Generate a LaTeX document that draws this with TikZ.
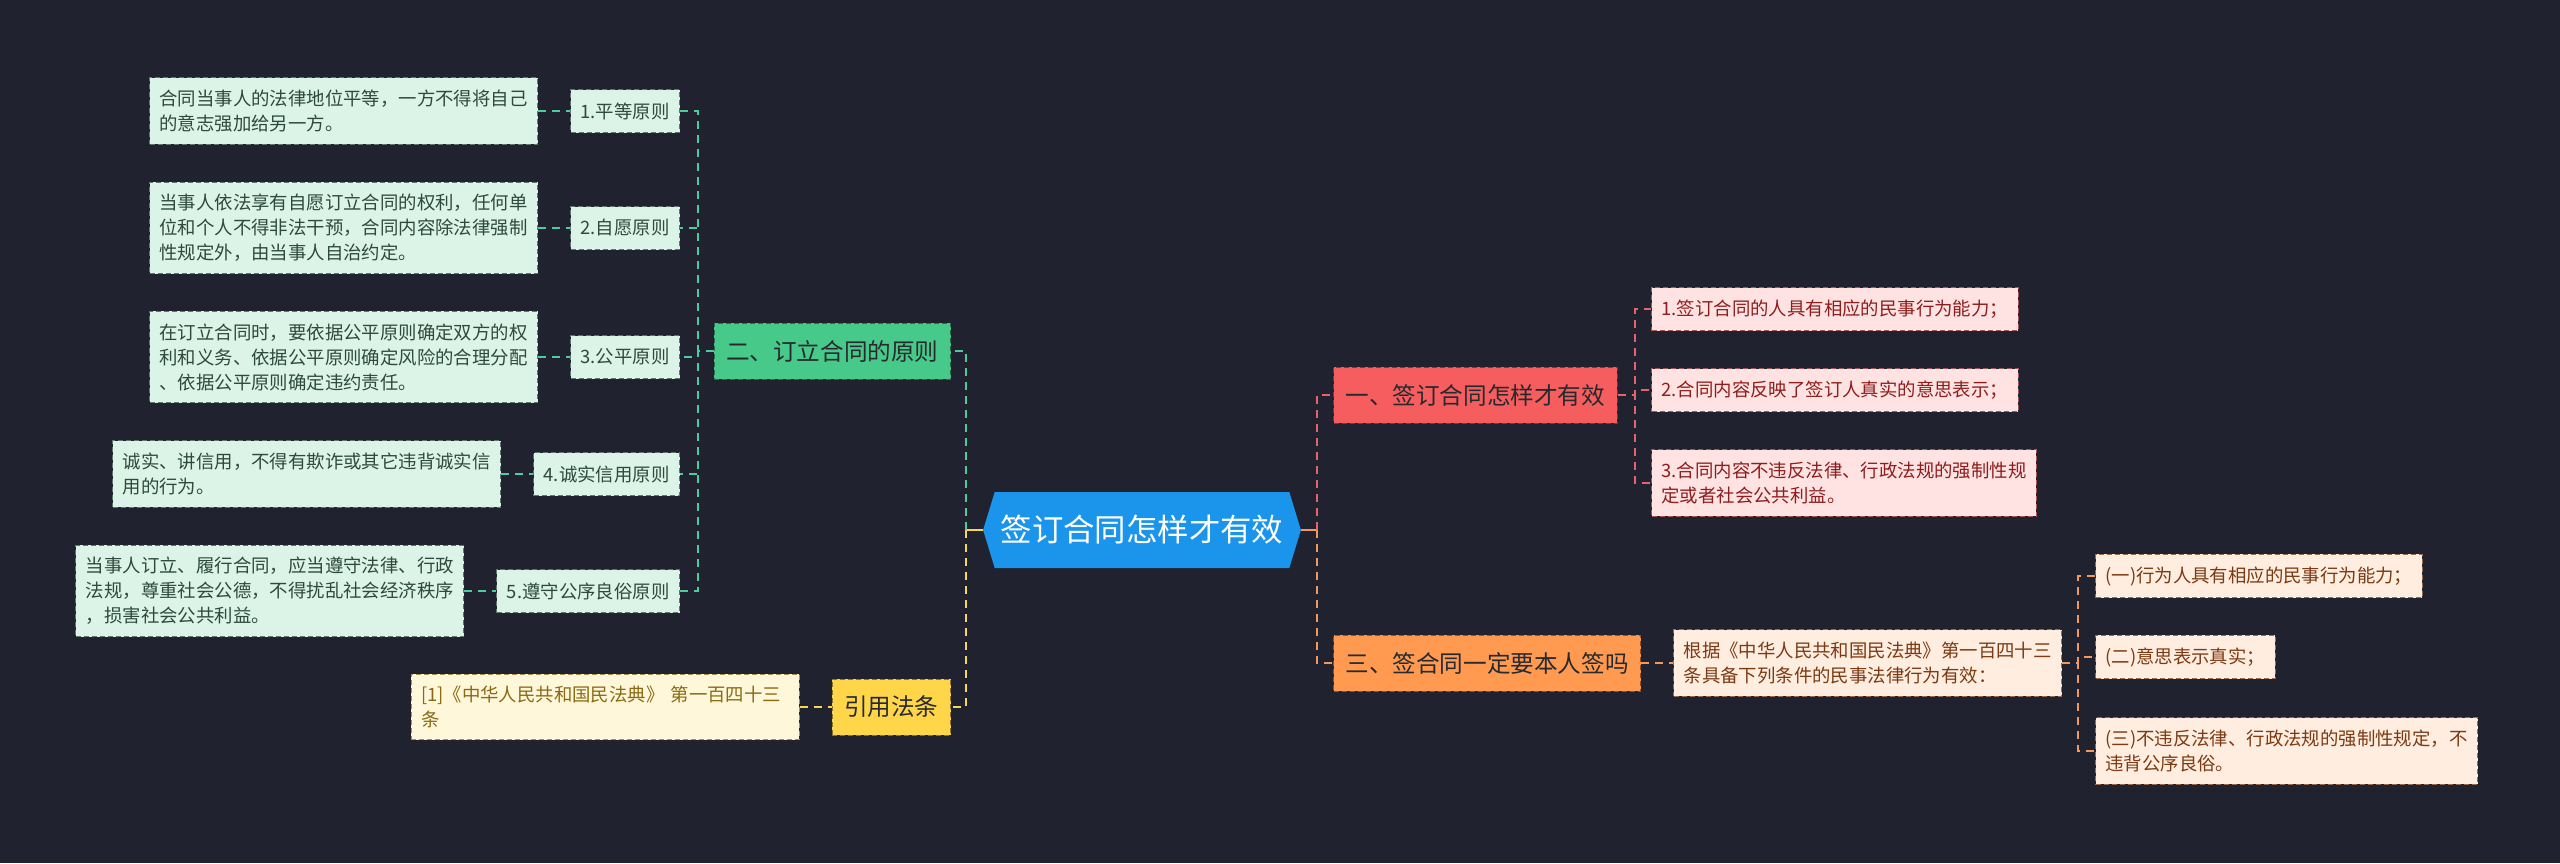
\documentclass[tikz,border=0pt]{standalone}
\usepackage{fontspec}
\setmainfont{Noto Sans CJK SC}
\usetikzlibrary{positioning,shapes.symbols}
\definecolor{Bg}{HTML}{20232F}
\definecolor{Root}{HTML}{1B95EC}
\definecolor{Dark}{HTML}{262A2E}
\definecolor{Green}{HTML}{47C98A}
\definecolor{GreenSoft}{HTML}{DCF3E7}
\definecolor{GreenInk}{HTML}{2C4A3D}
\definecolor{GreenLine}{HTML}{4CCB9B}
\definecolor{Red}{HTML}{F65D5E}
\definecolor{RedSoft}{HTML}{FFE3E3}
\definecolor{RedInk}{HTML}{8E1D1D}
\definecolor{RedLine}{HTML}{E5646B}
\definecolor{Orange}{HTML}{FF9A50}
\definecolor{OrangeSoft}{HTML}{FFEDE0}
\definecolor{OrangeInk}{HTML}{7B3A12}
\definecolor{OrangeLine}{HTML}{F2985E}
\definecolor{Yellow}{HTML}{FFD54A}
\definecolor{YellowSoft}{HTML}{FFF7DA}
\definecolor{YellowInk}{HTML}{8A6A12}
\definecolor{YellowLine}{HTML}{F7D45C}
\tikzset{
  rootnode/.style={shape=signal,signal to=west and east,signal pointer angle=146,fill=Root,text=white,minimum height=38pt,inner xsep=3pt,font=\fontsize{15.7pt}{18pt}\selectfont},
  topic/.style={draw=#1!55!black,dash pattern=on 2.5pt off 1.5pt,line width=0.5pt,fill=#1,text=Dark,minimum height=28pt,inner xsep=6pt,inner ysep=0pt,font=\fontsize{11.8pt}{14pt}\selectfont},
  leaf/.style n args={2}{draw=#2!75,dash pattern=on 2.5pt off 1.5pt,line width=0.5pt,fill=#1,text=#2,align=left,minimum height=21.5pt,inner xsep=5pt,inner ysep=6pt,font=\fontsize{9.2pt}{12.5pt}\selectfont},
  note/.style n args={2}{leaf={#1}{#2},text width=184pt},
  link/.style={draw=#1,line width=1.1pt,dash pattern=on 4pt off 3pt},
  stub/.style={draw=#1,line width=1.1pt}
}
\begin{document}
\begin{tikzpicture}[x=0.5pt,y=-0.5pt]
\fill[Bg] (0,0) rectangle (2560,863);
\useasboundingbox (0,0) rectangle (2560,863);
% centre and main topics
\node[rootnode] (root) at (1142,530) {签订合同怎样才有效};
\node[topic=Green,anchor=east] (prin) at (951,351) {二、订立合同的原则};
\node[topic=Yellow,anchor=east] (laws) at (951,707) {引用法条};
\node[topic=Red,anchor=west] (valid) at (1333,395) {一、签订合同怎样才有效};
\node[topic=Orange,anchor=west] (sign) at (1333,663) {三、签合同一定要本人签吗};
% principles
\node[leaf={GreenSoft}{GreenInk},anchor=east] (p1) at (680,111) {1.平等原则};
\node[leaf={GreenSoft}{GreenInk},anchor=east] (p2) at (680,228) {2.自愿原则};
\node[leaf={GreenSoft}{GreenInk},anchor=east] (p3) at (680,357) {3.公平原则};
\node[leaf={GreenSoft}{GreenInk},anchor=east] (p4) at (680,474) {4.诚实信用原则};
\node[leaf={GreenSoft}{GreenInk},anchor=east] (p5) at (680,591) {5.遵守公序良俗原则};
\node[note={GreenSoft}{GreenInk},left=16pt of p1] (d1) {合同当事人的法律地位平等，一方不得将自己\\的意志强加给另一方。};
\node[note={GreenSoft}{GreenInk},left=16pt of p2] (d2) {当事人依法享有自愿订立合同的权利，任何单\\位和个人不得非法干预，合同内容除法律强制\\性规定外，由当事人自治约定。};
\node[note={GreenSoft}{GreenInk},left=16pt of p3] (d3) {在订立合同时，要依据公平原则确定双方的权\\利和义务、依据公平原则确定风险的合理分配\\、依据公平原则确定违约责任。};
\node[note={GreenSoft}{GreenInk},left=16pt of p4] (d4) {诚实、讲信用，不得有欺诈或其它违背诚实信\\用的行为。};
\node[note={GreenSoft}{GreenInk},left=16pt of p5] (d5) {当事人订立、履行合同，应当遵守法律、行政\\法规，尊重社会公德，不得扰乱社会经济秩序\\，损害社会公共利益。};
\node[note={YellowSoft}{YellowInk},left=16pt of laws] (ref) {[1]《中华人民共和国民法典》 第一百四十三\\条};
% right side
\node[leaf={RedSoft}{RedInk},anchor=west] (r1) at (1651,309) {1.签订合同的人具有相应的民事行为能力；};
\node[leaf={RedSoft}{RedInk},anchor=west] (r2) at (1651,390) {2.合同内容反映了签订人真实的意思表示；};
\node[leaf={RedSoft}{RedInk},anchor=west] (r3) at (1651,483) {3.合同内容不违反法律、行政法规的强制性规\\定或者社会公共利益。};
\node[note={OrangeSoft}{OrangeInk},right=16pt of sign] (basis) {根据《中华人民共和国民法典》第一百四十三\\条具备下列条件的民事法律行为有效：};
\node[leaf={OrangeSoft}{OrangeInk},anchor=west] (o1) at (2095,576) {(一)行为人具有相应的民事行为能力；};
\node[leaf={OrangeSoft}{OrangeInk},anchor=west] (o2) at (2095,657) {(二)意思表示真实；};
\node[leaf={OrangeSoft}{OrangeInk},anchor=west] (o3) at (2095,751) {(三)不违反法律、行政法规的强制性规定，不\\违背公序良俗。};
% connectors
\draw[stub=YellowLine] (root.west)--++(-17,0) coordinate (jl);
\draw[link=GreenLine] (jl)|-(prin.east);\draw[link=YellowLine] (jl)|-(laws.east);
\draw[stub=OrangeLine] (root.east)--++(16,0) coordinate (jr);
\draw[link=RedLine] (jr)|-(valid.west);\draw[link=OrangeLine] (jr)|-(sign.west);
\draw[link=GreenLine] (prin.west)--++(-16,0)|-(p1.east);\draw[link=GreenLine] (prin.west)--++(-16,0)|-(p2.east);
\draw[link=GreenLine] (prin.west)--++(-16,0)|-(p3.east);\draw[link=GreenLine] (prin.west)--++(-16,0)|-(p4.east);
\draw[link=GreenLine] (prin.west)--++(-16,0)|-(p5.east);
\draw[link=GreenLine] (d1)--(p1);\draw[link=GreenLine] (d2)--(p2);\draw[link=GreenLine] (d3)--(p3);
\draw[link=GreenLine] (d4)--(p4);\draw[link=GreenLine] (d5)--(p5);
\draw[link=YellowLine] (ref)--(laws);
\draw[link=RedLine] (valid.east)--++(17,0)|-(r1.west);\draw[link=RedLine] (valid.east)--++(17,0)|-(r2.west);
\draw[link=RedLine] (valid.east)--++(17,0)|-(r3.west);
\draw[link=OrangeLine] (sign)--(basis);
\draw[link=OrangeLine] (basis.east)--++(16,0)|-(o1.west);\draw[link=OrangeLine] (basis.east)--++(16,0)|-(o2.west);
\draw[link=OrangeLine] (basis.east)--++(16,0)|-(o3.west);
\end{tikzpicture}
\end{document}
